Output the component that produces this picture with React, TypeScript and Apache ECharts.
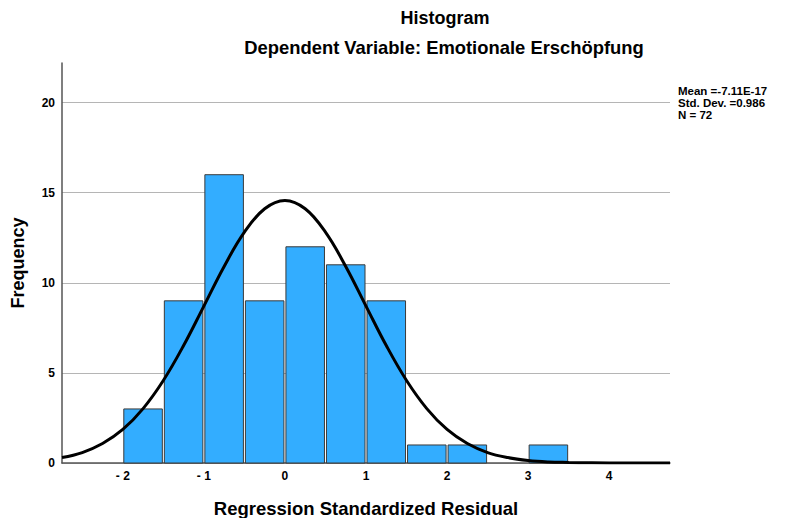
import React, { useEffect, useRef } from "react";
import * as echarts from "echarts";

const binStarts = [-2, -1.5, -1, -0.5, 0, 0.5, 1, 1.5, 2, 2.5, 3];
const binCounts = [3, 9, 16, 9, 12, 11, 9, 1, 1, 0, 1];
const binWidth = 0.5;

const curveX = [-2.75, -2.5, -2.25, -2, -1.75, -1.5, -1.25, -1, -0.75, -0.5, -0.25, 0, 0.25, 0.5, 0.75, 1, 1.25, 1.5, 1.75, 2, 2.25, 2.5, 2.75, 3, 3.25, 3.5, 3.75, 4, 4.75];
const curveY = [0.3, 0.58, 1.08, 1.86, 3.02, 4.58, 6.52, 8.71, 10.91, 12.81, 14.11, 14.57, 14.11, 12.81, 10.91, 8.71, 6.52, 4.58, 3.02, 1.86, 1.08, 0.58, 0.3, 0.14, 0.06, 0.03, 0.01, 0, 0];

const xTickLabels: Record<string, string> = { "-2": "- 2", "-1": "- 1", "0": "0", "1": "1", "2": "2", "3": "3", "4": "4" };
const statsLines = ["Mean =-7.11E-17", "Std. Dev. =0.986", "N = 72"];

const FONT = "'Liberation Sans', Arial, sans-serif";

export default function App() {
  const ref = useRef<HTMLDivElement>(null);
  useEffect(() => {
    document.body.style.margin = "0";
    if (!ref.current) return;
    const chart = echarts.init(ref.current, null, { renderer: "svg" });
    const barData = binStarts.map((s, i) => [s, s + binWidth, binCounts[i]]);
    chart.setOption({
      animation: false,
      backgroundColor: "#ffffff",
      textStyle: { fontFamily: FONT },
      grid: { left: 62, right: 115, top: 63, bottom: 55, containLabel: false, outerBoundsMode: "none" },
      xAxis: {
        type: "value",
        min: -2.75,
        max: 4.75,
        interval: 0.25,
        axisLine: { show: true, onZero: false, lineStyle: { color: "#555", width: 1.5 } },
        axisTick: { show: false },
        splitLine: { show: false },
        axisLabel: {
          margin: 7,
          color: "#000",
          fontWeight: "bold",
          fontSize: 12,
          fontFamily: FONT,
          formatter: (v: number) => {
            const k = String(Math.round(v * 100) / 100);
            return xTickLabels[k] ?? "";
          },
        },
        name: "Regression Standardized Residual",
        nameLocation: "middle",
        nameGap: 36,
        nameTextStyle: { color: "#000", fontWeight: "bold", fontSize: 18.5, fontFamily: FONT },
      },
      yAxis: {
        type: "value",
        min: 0,
        max: 22.2,
        interval: 5,
        axisLine: { show: true, onZero: false, lineStyle: { color: "#555", width: 1.5 } },
        axisTick: { show: false },
        splitLine: { show: true, showMaxLine: false, lineStyle: { color: "#b5b5b5", width: 1 } },
        axisLabel: {
          margin: 7,
          color: "#000",
          fontWeight: "bold",
          fontSize: 12,
          fontFamily: FONT,
          showMaxLabel: false,
          formatter: (v: number) => (v % 5 === 0 ? String(v) : ""),
        },
        name: "Frequency",
        nameLocation: "middle",
        nameGap: 35,
        nameTextStyle: { color: "#000", fontWeight: "bold", fontSize: 18, fontFamily: FONT },
      },
      graphic: [
        {
          type: "text",
          x: 445,
          y: 9,
          style: { text: "Histogram", fill: "#000", font: `bold 18px ${FONT}`, align: "center" },
        },
        {
          type: "text",
          x: 444,
          y: 38,
          style: { text: "Dependent Variable: Emotionale Erschöpfung", fill: "#000", font: `bold 18.4px ${FONT}`, align: "center" },
        },
        ...statsLines.map((t, i) => ({
          type: "text",
          x: 678,
          y: 85 + i * 12,
          style: { text: t, fill: "#000", font: `bold 11.5px ${FONT}` },
        })),
      ],
      series: [
        {
          type: "custom",
          data: barData,
          encode: { x: [0, 1], y: 2 },
          renderItem: (params: any, api: any) => {
            const x0 = api.value(0);
            const x1 = api.value(1);
            const c = api.value(2);
            if (!c) return null;
            const p0 = api.coord([x0, c]);
            const p1 = api.coord([x1, 0]);
            return {
              type: "rect",
              shape: { x: p0[0] + 1, y: p0[1], width: p1[0] - p0[0] - 2, height: p1[1] - p0[1] },
              style: { fill: "#33adff", stroke: "#3a3a3a", lineWidth: 1 },
            };
          },
          z: 2,
        },
        {
          type: "line",
          data: curveX.map((x, i) => [x, curveY[i]]),
          smooth: 0.4,
          showSymbol: false,
          lineStyle: { color: "#000", width: 3 },
          z: 3,
        },
      ],
    });
    return () => chart.dispose();
  }, []);
  return <div ref={ref} style={{ width: 785, height: 518 }} />;
}
